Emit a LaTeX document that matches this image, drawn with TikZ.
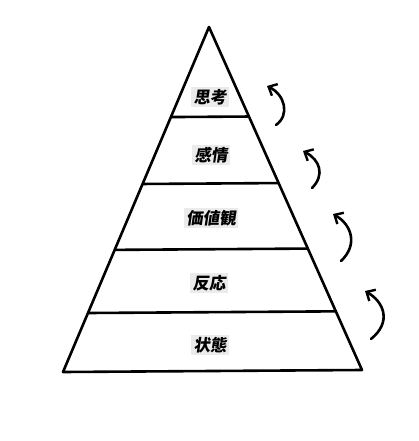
\documentclass[tikz,border=0pt]{standalone}
\usepackage{fontspec}
\newfontfamily\jpfont[FakeSlant=0.15]{Noto Sans CJK JP}
\usetikzlibrary{arrows.meta,calc}

\begin{document}
\begin{tikzpicture}[x=1pt,y=-1pt,line width=2.6pt,line join=round,
    level/.style={fill=black!8,inner sep=2.5pt,font=\jpfont\bfseries\fontsize{16.5}{16.5}\selectfont},
    turn/.style={-{Straight Barb[length=7pt,width=13pt,line width=2.4pt]},line cap=round}]
   \useasboundingbox (0,0) rectangle (419,441);
   \coordinate (top) at (209,27);
   \coordinate (bl) at (63,372);
   \coordinate (br) at (362,370);
   \draw (top) -- (bl) -- (br) -- cycle;
   % bands
   \foreach \t in {0.261,0.455,0.646,0.829}
      \draw ($(top)!\t!(bl)$) -- ($(top)!\t!(br)$);
   % labels
   \node[level] (think) at (210,97) {思考};
   \node[level] (feel) at (211,155) {感情};
   \node[level] (value) at (211,218) {価値観};
   \node[level] (react) at (209,283) {反応};
   \node[level] (state) at (210,345) {状態};
   % arrows
   \coordinate (a1) at (276,125); \coordinate (b1) at (267,86);
   \coordinate (a2) at (312,188); \coordinate (b2) at (303,151);
   \coordinate (a3) at (341,261); \coordinate (b3) at (333,214);
   \coordinate (a4) at (371,339); \coordinate (b4) at (365,291);
   \draw[turn] (a1) .. controls (290,115) and (285,95) .. (b1);
   \draw[turn] (a2) .. controls (325,175) and (320,160) .. (b2);
   \draw[turn] (a3) .. controls (358,245) and (352,225) .. (b3);
   \draw[turn] (a4) .. controls (392,322) and (384,302) .. (b4);
\end{tikzpicture}
\end{document}
